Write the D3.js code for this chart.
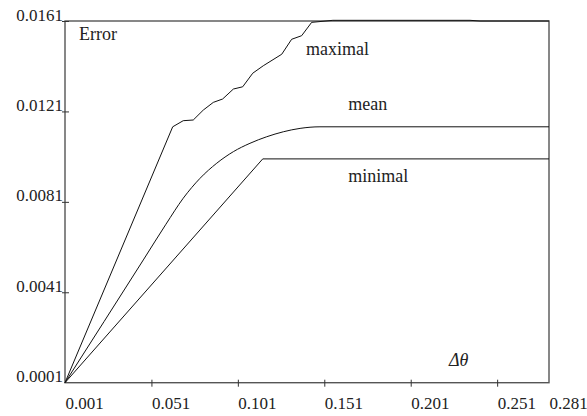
<!DOCTYPE html>
<html>
<head>
<meta charset="utf-8">
<script src="https://d3js.org/d3.v7.min.js"></script>
<style>
  body { margin: 0; background: #fff; }
  svg { display: block; font-family: "Liberation Serif", "Times New Roman", serif; }
  .tick text { font-size: 17px; fill: #222; }
  .lbl { font-size: 18px; fill: #222; }
</style>
</head>
<body>
<div id="chart"></div>
<script>
// tick values
const xTicks = [0.001, 0.051, 0.101, 0.151, 0.201, 0.251, 0.281];
const yTicks = [0.0001, 0.0041, 0.0081, 0.0121, 0.0161];

// series: [delta theta, error]
const maximal = [
  [0.001, 0.0001], [0.0633, 0.01142], [0.0694, 0.01169], [0.0752, 0.01172],
  [0.0810, 0.01216], [0.0868, 0.0125], [0.0922, 0.01265], [0.0984, 0.01309],
  [0.1038, 0.01319], [0.1096, 0.01379], [0.1157, 0.01412], [0.1264, 0.01463],
  [0.1321, 0.01529], [0.1379, 0.01545], [0.1437, 0.01604], [0.1560, 0.01613],
  [0.2353, 0.01613], [0.2411, 0.0161], [0.281, 0.0161]
];
const mean = [
  [0.001, 0.0001], [0.0463, 0.00553], [0.0594, 0.00711], [0.0694, 0.00826],
  [0.0791, 0.00914], [0.0888, 0.00981], [0.0984, 0.01032], [0.1080, 0.01069],
  [0.1177, 0.01098], [0.1273, 0.0112], [0.1370, 0.01135], [0.1485, 0.01142],
  [0.281, 0.01142]
];
const minimal = [
  [0.001, 0.0001], [0.1154, 0.0100], [0.281, 0.0100]
];

const labels = [
  { text: 'Error', x: 0.0091, y: 0.01526 },
  { text: 'maximal', x: 0.1404, y: 0.0146 },
  { text: 'mean', x: 0.1649, y: 0.01216 },
  { text: 'minimal', x: 0.1649, y: 0.00899 }
];

const W = 587, H = 416;
const margin = { top: 21, right: 38, bottom: 33.3, left: 65 };
const w = W - margin.left - margin.right;
const h = H - margin.top - margin.bottom;

const svg = d3.select('#chart').append('svg')
  .attr('width', W).attr('height', H);
const g = svg.append('g').attr('transform', `translate(${margin.left},${margin.top})`);

const x = d3.scaleLinear().domain([0.001, 0.281]).range([0, w]);
const y = d3.scaleLinear().domain([0.0001, 0.0161]).range([h, 0]);

// frame
g.append('rect')
  .attr('x', 0).attr('y', 0).attr('width', w).attr('height', h)
  .attr('fill', 'none').attr('stroke', '#555').attr('stroke-width', 1.4);

// x axis
const xAxisG = g.append('g').attr('transform', `translate(0,${h})`)
  .call(d3.axisBottom(x).tickValues(xTicks).tickFormat(d3.format('.3f')))
  .attr('font-family', null).attr('font-size', null);
xAxisG.select('.domain').remove();
xAxisG.selectAll('.tick line')
  .attr('y1', -3).attr('y2', 4).attr('stroke', '#333')
  .style('display', d => (d === 0.001 || d === 0.281) ? 'none' : null);
xAxisG.selectAll('.tick text')
  .attr('text-anchor', 'start').attr('y', 26).attr('dy', 0).attr('x', 0);

// y axis
const yAxisG = g.append('g')
  .call(d3.axisLeft(y).tickValues(yTicks).tickFormat(d3.format('.4f')))
  .attr('font-family', null).attr('font-size', null);
yAxisG.select('.domain').remove();
yAxisG.selectAll('.tick line')
  .attr('x1', -3).attr('x2', 4).attr('stroke', '#333')
  .style('display', d => d === 0.0001 ? 'none' : null);
yAxisG.selectAll('.tick text')
  .attr('text-anchor', 'end').attr('x', -2).attr('dy', -1);

// series
const line = d3.line().x(d => x(d[0])).y(d => y(d[1]));
const smooth = d3.line().x(d => x(d[0])).y(d => y(d[1])).curve(d3.curveMonotoneX);

g.append('path').datum(maximal).attr('d', line)
  .attr('fill', 'none').attr('stroke', '#111').attr('stroke-width', 1);
g.append('path').datum(mean).attr('d', smooth)
  .attr('fill', 'none').attr('stroke', '#111').attr('stroke-width', 1);
g.append('path').datum(minimal).attr('d', line)
  .attr('fill', 'none').attr('stroke', '#111').attr('stroke-width', 1);

// in-plot labels
g.selectAll('.lbl').data(labels).join('text')
  .attr('class', 'lbl')
  .attr('x', d => x(d.x)).attr('y', d => y(d.y))
  .text(d => d.text);

g.append('text')
  .attr('class', 'lbl')
  .attr('x', x(0.2231)).attr('y', y(0.00084))
  .style('font-style', 'italic')
  .text('Δθ');
</script>
</body>
</html>
